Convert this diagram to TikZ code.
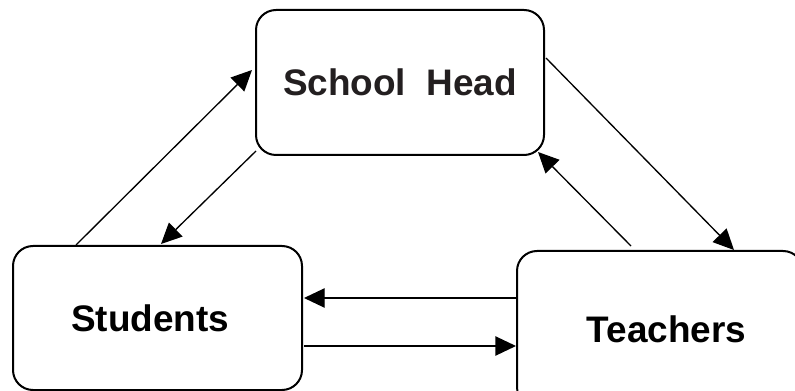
\documentclass[tikz,border=0pt]{standalone}
\usepackage{fontspec}
\setmainfont{Liberation Sans}
\usepackage{tikz}
\usetikzlibrary{arrows.meta}
\usetikzlibrary{calc}

\begin{document}
\begin{tikzpicture}[x=0.75pt,y=0.75pt,yscale=-1,xscale=1,
  role/.style={draw, line width=1.5pt, rounded corners=15pt, inner sep=0pt,
    font=\fontsize{27.7}{33}\selectfont\bfseries},
  flow/.style={line width=1pt, -{Triangle[length=15.5pt,width=14.5pt]}}]
%set diagram left start at 0, and has height of 391
\useasboundingbox (0,0) rectangle (795,391);

%Rounded Rect [id:head]
\node [role, minimum width=216pt, minimum height=108.75pt,
  text={rgb, 255:red, 35; green, 31; blue, 32}] (head) at (400,82.5) {School~ Head};
%Rounded Rect [id:stu]
\node [role, minimum width=216.75pt, minimum height=108pt] (stu) at (157.5,318) {Students\hspace*{11pt}};
%Rounded Rect [id:tea]
\node [role, minimum width=214.5pt, minimum height=117pt] (tea) at (660,329) {\hspace*{10pt}Teachers};

%Straight Lines [id:stu-head]
\draw [flow] ($(stu.north west)+(64,0)$) -- ($(head.north west)+(-3,61)$);
%Straight Lines [id:head-stu]
\draw [flow] ($(head.south west)+(1,-5)$) -- ($(stu.north west)+(149,-1)$);
%Straight Lines [id:head-tea]
\draw [flow] ($(head.north east)+(1,49)$) -- ($(tea.north west)+(218,0)$);
%Straight Lines [id:tea-head]
\draw [flow] ($(tea.north west)+(115,-4)$) -- ($(head.south east)+(-7,-4)$);
%Straight Lines [id:tea-stu]
\draw [flow] ($(tea.north west)+(0,48)$) -- ($(stu.north east)+(1,53)$);
%Straight Lines [id:stu-tea]
\draw [flow] ($(stu.north east)+(1,101)$) -- ($(tea.north west)+(0,96)$);

\end{tikzpicture}
\end{document}
